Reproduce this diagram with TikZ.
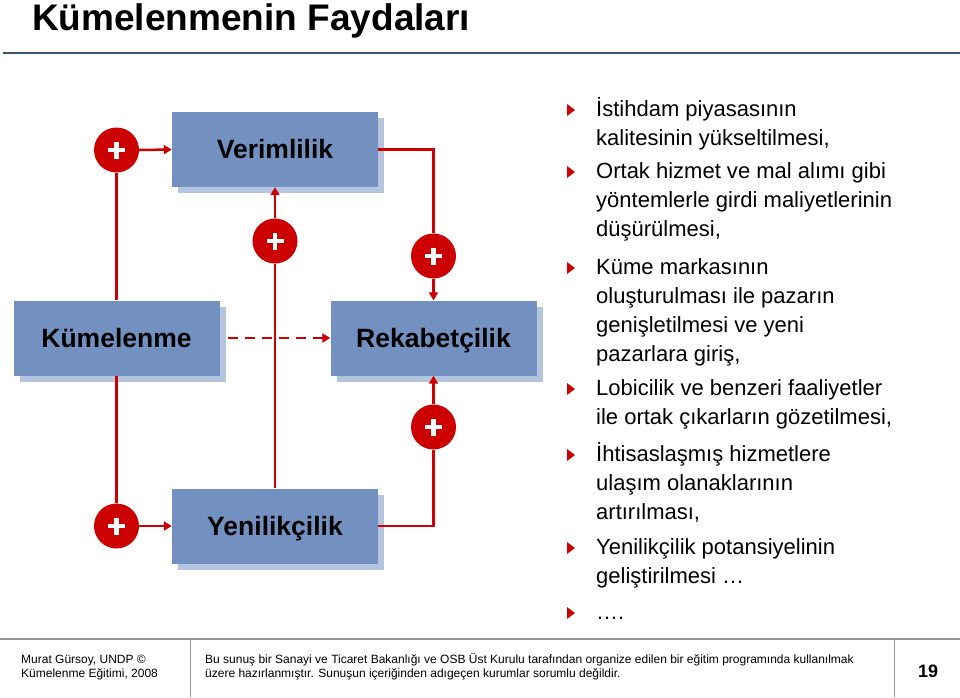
\documentclass[tikz,border=0pt]{standalone}
\usepackage{fontspec}
\setmainfont{Liberation Sans}
\usetikzlibrary{arrows.meta,shadows}

\definecolor{boxblue}{RGB}{115,145,192}
\definecolor{shadeblue}{RGB}{180,195,222}
\definecolor{linkred}{RGB}{204,0,0}
\definecolor{ruleblue}{RGB}{60,85,110}
\definecolor{footgray}{RGB}{150,150,150}

\tikzset{
  factor/.style={fill=boxblue, minimum width=206pt, minimum height=75pt, inner sep=0pt,
    text height=20pt, text depth=2pt,
    font=\fontsize{26.5}{30}\selectfont\bfseries,
    drop shadow={shadow xshift=6pt, shadow yshift=-6pt, fill=shadeblue, opacity=1}},
  plusdot/.style={circle, fill=linkred, minimum size=45pt, inner sep=0pt,
    path picture={\draw[white, line width=4.5pt]
      ([xshift=-8.5pt]path picture bounding box.center) -- ([xshift=8.5pt]path picture bounding box.center)
      ([yshift=-8.5pt]path picture bounding box.center) -- ([yshift=8.5pt]path picture bounding box.center);}},
  link/.style={linkred, line width=2.5pt},
  arr/.style={link, -{Triangle[length=8pt,width=9pt]}},
  bullettext/.style={anchor=base west, inner sep=0pt, font=\fontsize{22}{26}\selectfont},
  foottext/.style={anchor=base west, inner sep=0pt, font=\fontsize{12}{14}\selectfont},
}

\begin{document}
\begin{tikzpicture}[x=1pt,y=-1pt]

  % Page
  \fill[white] (0,0) rectangle (960,697);
  \useasboundingbox (0,0) rectangle (960,697);

  % Title
  \node[anchor=base west, inner sep=0pt, font=\fontsize{37}{40}\selectfont\bfseries] (title) at (32,30) {Kümelenmenin Faydaları};
  \draw[ruleblue, line width=1.5pt] (3,53) -- (960,53);

  % Factors
  \node[factor] (kume)  at (116.5,338) {Kümelenme};
  \node[factor] (verim) at (275,149.5) {Verimlilik};
  \node[factor] (rek)   at (433.5,338) {Rekabetçilik};
  \node[factor] (yeni)  at (275,526)   {Yenilikçilik};

  % Plus signs
  \node[plusdot] (p1) at (116.5,150) {};
  \node[plusdot] (p2) at (275,241)   {};
  \node[plusdot] (p3) at (433.5,256) {};
  \node[plusdot] (p4) at (433.5,427) {};
  \node[plusdot] (p5) at (116.5,526) {};

  % Links
  \draw[link] (kume.north) -- (p1.south);
  \draw[arr] (p1.east) -- (verim.west);
  \draw[link] (verim.east) -| (p3.north);
  \draw[arr] (p3.south) -- (rek.north);
  \draw[link] (yeni.north) -- (p2.south);
  \draw[arr] (p2.north) -- (verim.south);
  \draw[link] (kume.south) -- (p5.north);
  \draw[arr] (p5.east) -- (yeni.west);
  \draw[link] (yeni.east) -| (p4.south);
  \draw[arr] (p4.north) -- (rek.south);
  \draw[arr, dash pattern=on 10pt off 7pt] ([xshift=8pt]kume.east) -- (rek.west);

  % Benefits
  \foreach \yy in {109,171,267,388,454,547,612}
    \fill[linkred] (567,\yy-5) -- (575,\yy+1) -- (567,\yy+7) -- cycle;
  \foreach \yy/\txt [count=\i] in {
      109/{İstihdam piyasasının},
      138/{kalitesinin yükseltilmesi,},
      171/{Ortak hizmet ve mal alımı gibi},
      200/{yöntemlerle girdi maliyetlerinin},
      229/{düşürülmesi,},
      267/{Küme markasının},
      296/{oluşturulması ile pazarın},
      325/{genişletilmesi ve yeni},
      354/{pazarlara giriş,},
      388/{Lobicilik ve benzeri faaliyetler},
      417/{ile ortak çıkarların gözetilmesi,},
      454/{İhtisaslaşmış hizmetlere},
      483/{ulaşım olanaklarının},
      512/{artırılması,},
      547/{Yenilikçilik potansiyelinin},
      576/{geliştirilmesi …},
      612/{….}}
    \node[bullettext] (line\i) at (596,\yy+7.5) {\txt};

  % Footer
  \draw[footgray, line width=1.5pt] (0,639) -- (960,639);
  \draw[footgray, line width=1pt] (190,639) -- (190,697);
  \draw[footgray, line width=1pt] (894,639) -- (894,697);
  \node[foottext] (auth1) at (21,663) {Murat Gürsoy, UNDP ©};
  \node[foottext] (auth2) at (21,677) {Kümelenme Eğitimi, 2008};
  \node[foottext] (note1) at (205,663) {Bu sunuş bir Sanayi ve Ticaret Bakanlığı ve OSB Üst Kurulu tarafından organize edilen bir eğitim programında kullanılmak};
  \node[foottext] (note2) at (205,677) {üzere hazırlanmıştır. Sunuşun içeriğinden adıgeçen kurumlar sorumlu değildir.};
  \node[anchor=base west, inner sep=0pt, font=\fontsize{18}{20}\selectfont\bfseries] (page) at (918,677) {19};

\end{tikzpicture}
\end{document}
